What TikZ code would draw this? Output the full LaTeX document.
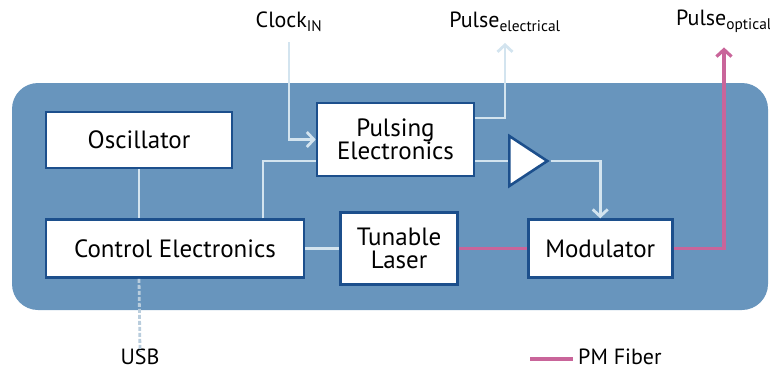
\documentclass[tikz,border=0pt]{standalone}
\usepackage{fontspec}
\setmainfont{PT Sans}
\usepackage{xcolor}
\definecolor{panel}{HTML}{6895BD}
\definecolor{boxline}{HTML}{1C4F8C}
\definecolor{sigcol}{HTML}{D3E4EF}
\definecolor{fibercol}{HTML}{C9659A}
\definecolor{usbcol}{HTML}{B9CDDD}
\usepackage{tikz}
\usetikzlibrary{arrows.meta, shapes.geometric, positioning}

\begin{document}
\begin{tikzpicture}[x=1pt, y=-1pt, node distance=0.4cm,
    >={Straight Barb[length=7pt,width=15pt]},
    block/.style={draw=boxline, fill=white, line width=2.6pt, inner sep=2pt,
        align=center, font=\fontsize{25}{26}\selectfont},
    label/.style={inner sep=1pt, font=\fontsize{22}{24}\selectfont},
    sig/.style={draw=sigcol, line width=2.8pt},
    fiber/.style={draw=fibercol, line width=3.2pt},
    usb/.style={draw=usbcol, line width=2.8pt, dash pattern=on 4pt off 2pt}]
  \useasboundingbox (0,0) rectangle (770,370);

  % housing
  \fill[panel, rounded corners=26pt] (12,83) rectangle (768,310);

  % blocks
  \node[block, minimum width=186pt, minimum height=56pt] (osc) at (139,140)
        {Oscillator};
  \node[block, minimum width=258pt, minimum height=58pt,
        below=49pt of osc.south west, anchor=north west] (ctrl)
        {Control Electronics};
  \node[block, minimum width=117pt, minimum height=72pt,
        right=34pt of ctrl] (laser)
        {Tunable\\[-3pt]Laser};
  \node[block, minimum width=144pt, minimum height=58pt,
        right=68pt of laser] (mod)
        {Modulator};
  \node[block, minimum width=157pt, minimum height=73pt] (pulse) at (395.5,139.5)
        {Pulsing\\[-3pt]Electronics};
  \node[draw=boxline, fill=white, line width=2.6pt, isosceles triangle,
        isosceles triangle stretches, minimum width=50pt, minimum height=38pt,
        inner sep=0pt, anchor=west] (amp) at (508,161) {};

  % outside labels
  \node[label] (clk) at (289,22) {Clock\textsubscript{IN}};
  \node[label] (pel) at (505,22) {Pulse\textsubscript{electrical}};
  \node[label] (pop) at (724,21) {Pulse\textsubscript{optical}};
  \node[label] (usbl) at (140,357) {USB};
  \node[label, anchor=west] (pm) at (577,357) {PM Fiber};
  \coordinate (legend) at (530,359);

  % electrical connections
  \draw[sig, ->] ([yshift=-9pt]clk.south) |- (pulse.west);
  \draw[sig, ->] ([yshift=21.5pt]pulse.east) -| ([yshift=-10pt]pel.south);
  \draw[sig] (amp.west -| pulse.east) -- (amp.west);
  \draw[sig, ->] (amp.east) -| (mod.north);
  \draw[sig] ([xshift=88pt]ctrl.north) |- (amp.west -| pulse.west);
  \draw[sig] (osc.south) -- (osc.south |- ctrl.north);
  \draw[sig] (ctrl.east) -- (ctrl.east -| laser.west);
  \draw[usb] (osc.south |- ctrl.south) -- ([yshift=-4pt]usbl.north);

  % optical path
  \draw[fiber] (laser.east |- mod.west) -- (mod.west);
  \draw[fiber, ->] (mod.east) -| ([yshift=-14pt]pop.south);
  \draw[fiber] (legend) -- ([xshift=-4pt]pm.west |- legend);
\end{tikzpicture}
\end{document}
